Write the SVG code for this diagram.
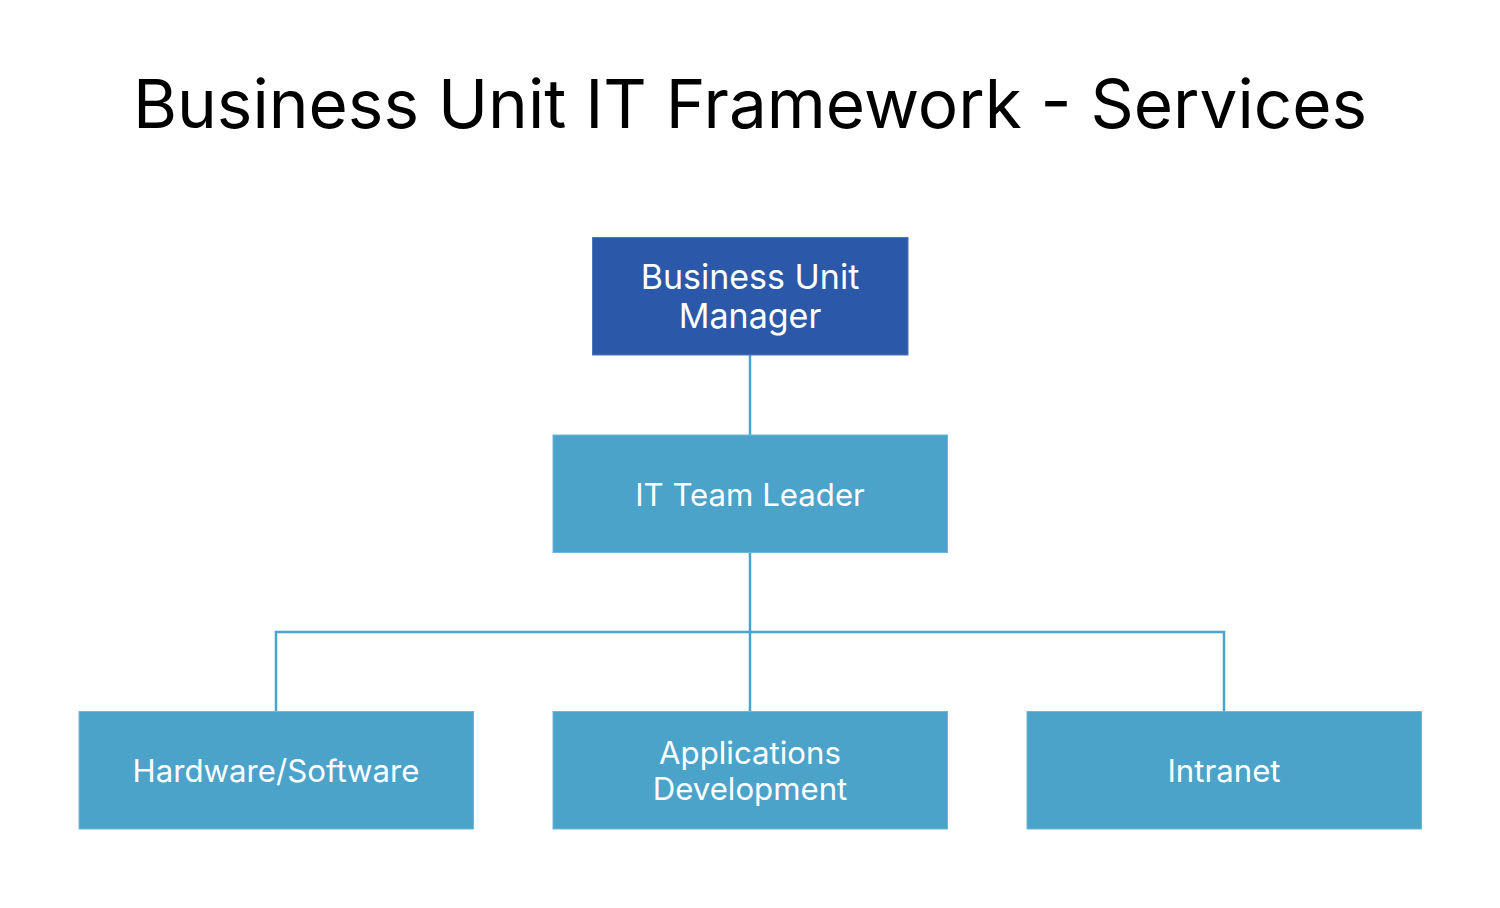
<svg xmlns="http://www.w3.org/2000/svg" width="1500" height="908" viewBox="0 0 1500 908">
<style>
.title{font-family:Inter,"Noto Sans",sans-serif;font-size:67.4px;fill:#000;text-anchor:middle}
.lbl{font-family:Inter,"Noto Sans",sans-serif;font-size:31.2px;fill:#fff;text-anchor:middle}
.big{font-size:34px}
.dark{fill:#2B58A8;stroke:#4A74BC;stroke-width:1}
.light{fill:#4BA3CA;stroke:#6FB7D8;stroke-width:1}
.conn{fill:none;stroke:#4BA3CB;stroke-width:2.5}
</style>
<rect width="1500" height="908" fill="#fff"/>
<text class="title" x="750" y="128">Business Unit IT Framework - Services</text>
<g id="connectors">
<path class="conn" d="M750 355 V435"/>
<path class="conn" d="M750 553 V711"/>
<path class="conn" d="M276 711 V632 H1224 V711"/>
</g>
<g id="bum">
<rect class="dark" x="592.5" y="237.5" width="315.5" height="117.5"/>
<text class="lbl big" x="750" y="288.5">Business Unit</text>
<text class="lbl big" x="750" y="328">Manager</text>
</g>
<g id="itl">
<rect class="light" x="553" y="435" width="394.5" height="117.5"/>
<text class="lbl" x="750" y="505.5">IT Team Leader</text>
</g>
<g id="hw">
<rect class="light" x="79" y="711.5" width="394.5" height="117.5"/>
<text class="lbl" x="276" y="781.5">Hardware/Software</text>
</g>
<g id="apps">
<rect class="light" x="553" y="711.5" width="394.5" height="117.5"/>
<text class="lbl" x="750" y="763.5">Applications</text>
<text class="lbl" x="750" y="800">Development</text>
</g>
<g id="intranet">
<rect class="light" x="1027" y="711.5" width="394.5" height="117.5"/>
<text class="lbl" x="1224" y="781.5">Intranet</text>
</g>
</svg>
